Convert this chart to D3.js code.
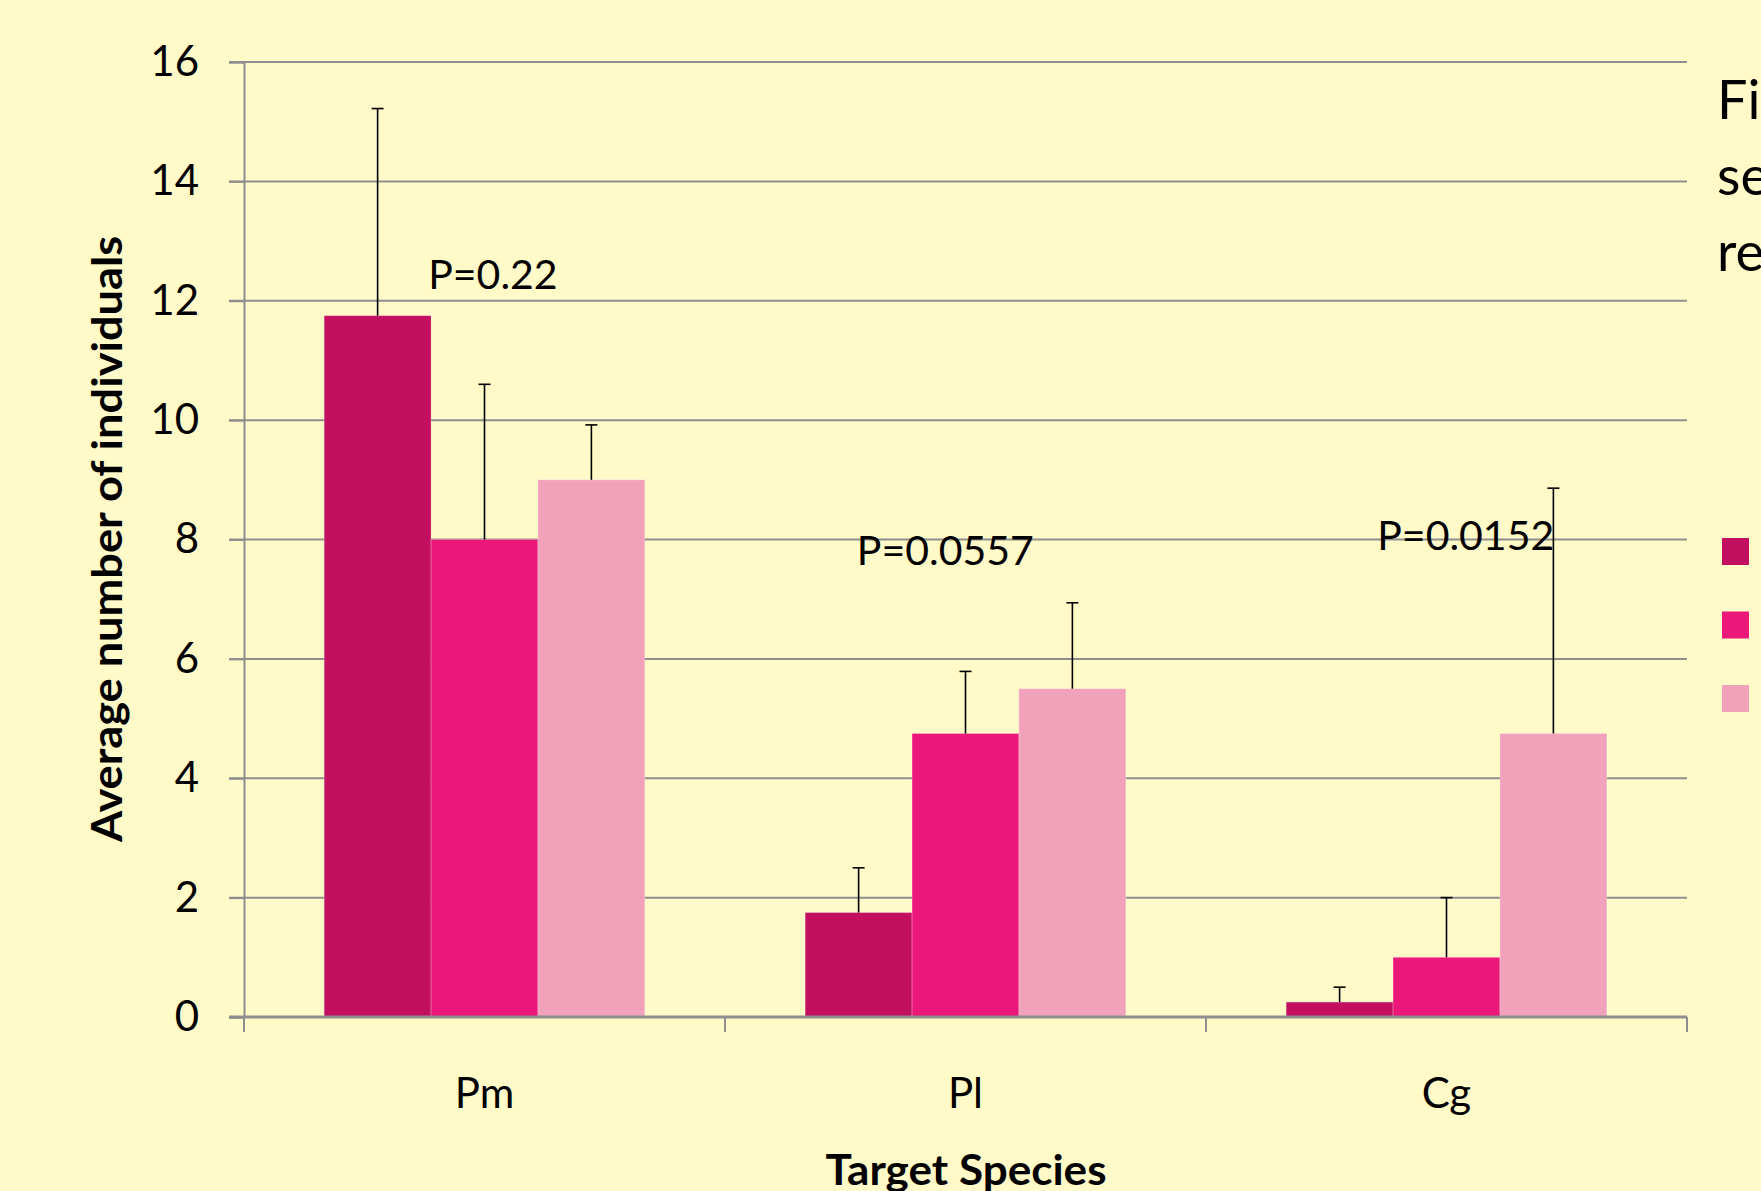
<!DOCTYPE html>
<html>
<head>
<meta charset="utf-8">
<script src="https://cdn.jsdelivr.net/npm/d3@7"></script>
<style>
  html, body { margin: 0; padding: 0; background: #fffac8; overflow: hidden; }
  svg { display: block; font-family: Lato, "Open Sans", sans-serif; }
</style>
</head>
<body>
<svg id="chart" width="1761" height="1191"></svg>
<script>
// Data
const categories = ["Pm", "Pl", "Cg"];
const seriesNames = ["Series 1", "Series 2", "Series 3"];
const seriesColors = ["#c20f5f", "#eb1779", "#f2a1bb"];
const means = [
  [11.75, 8.0, 9.0],   // Pm
  [1.75, 4.75, 5.5],   // Pl
  [0.25, 1.0, 4.75]    // Cg
];
const errors = [
  [3.47, 2.6, 0.92],
  [0.75, 1.04, 1.44],
  [0.25, 1.0, 4.11]
];
const pLabels = ["P=0.22", "P=0.0557", "P=0.0152"];
const yTicks = [0, 2, 4, 6, 8, 10, 12, 14, 16];
const sideText = ["Figure", "seagrass", "restored"];

function drawChart(container) {
  const svg = d3.select(container);
  svg.selectAll("*").remove();

  const width = 1761;
  const height = 1191;
  const margin = { top: 62, right: 74, bottom: 174, left: 244 };
  const innerWidth = width - margin.left - margin.right;
  const innerHeight = height - margin.top - margin.bottom;

  svg.append("rect")
    .attr("width", width)
    .attr("height", height)
    .attr("fill", "#fffac8");

  const g = svg.append("g")
    .attr("transform", `translate(${margin.left},${margin.top})`);

  // Scales
  const x0 = d3.scaleBand()
    .domain(categories)
    .range([0, innerWidth]);

  const x1 = d3.scaleBand()
    .domain(seriesNames)
    .range([0, x0.bandwidth()])
    .paddingInner(0)
    .paddingOuter(0.75);

  const y = d3.scaleLinear()
    .domain([0, 16])
    .range([innerHeight, 0]);

  // Gridlines
  g.append("g")
    .selectAll("line")
    .data(yTicks.filter(d => d > 0))
    .join("line")
    .attr("x1", -15)
    .attr("x2", innerWidth)
    .attr("y1", d => y(d))
    .attr("y2", d => y(d))
    .attr("stroke", "#8e8e8e")
    .attr("stroke-width", 2);

  // Y axis
  const yAxis = g.append("g")
    .call(d3.axisLeft(y).tickValues(yTicks).tickSize(15).tickPadding(30));
  yAxis.select(".domain").attr("stroke", "#8e8e8e").attr("stroke-width", 2);
  yAxis.selectAll(".tick line").attr("stroke", "#8e8e8e").attr("stroke-width", 2);
  yAxis.selectAll(".tick text")
    .attr("font-size", 42)
    .attr("font-family", "Lato, sans-serif")
    .attr("fill", "#000");

  // Bars
  const groups = g.append("g")
    .selectAll("g")
    .data(categories)
    .join("g")
    .attr("transform", c => `translate(${x0(c)},0)`);

  groups.selectAll("rect")
    .data((c, i) => seriesNames.map((s, j) => ({ s, j, v: means[i][j], e: errors[i][j] })))
    .join("rect")
    .attr("x", d => x1(d.s))
    .attr("y", d => y(d.v))
    .attr("width", x1.bandwidth())
    .attr("height", d => innerHeight - y(d.v))
    .attr("fill", d => seriesColors[d.j])
    .attr("stroke", "rgba(255,255,255,0.25)")
    .attr("stroke-width", 1);

  // Error bars (plus only)
  const err = groups.selectAll("g.err")
    .data((c, i) => seriesNames.map((s, j) => ({ s, j, v: means[i][j], e: errors[i][j] })))
    .join("g")
    .attr("class", "err")
    .attr("transform", d => `translate(${x1(d.s) + x1.bandwidth() / 2},0)`);

  err.append("line")
    .attr("y1", d => y(d.v))
    .attr("y2", d => y(d.v + d.e))
    .attr("stroke", "#000")
    .attr("stroke-width", 1.6);

  err.append("line")
    .attr("x1", -6)
    .attr("x2", 6)
    .attr("y1", d => y(d.v + d.e))
    .attr("y2", d => y(d.v + d.e))
    .attr("stroke", "#000")
    .attr("stroke-width", 1.6);

  // X axis
  const xAxis = g.append("g")
    .attr("transform", `translate(0,${innerHeight})`);
  xAxis.append("line")
    .attr("x1", -15)
    .attr("x2", innerWidth)
    .attr("stroke", "#8e8e8e")
    .attr("stroke-width", 3);
  xAxis.selectAll("line.tick")
    .data(categories.map(c => x0(c)).concat([innerWidth]))
    .join("line")
    .attr("class", "tick")
    .attr("x1", d => d)
    .attr("x2", d => d)
    .attr("y1", 0)
    .attr("y2", 15)
    .attr("stroke", "#8e8e8e")
    .attr("stroke-width", 2);
  xAxis.selectAll("text")
    .data(categories)
    .join("text")
    .attr("x", c => x0(c) + x0.bandwidth() / 2)
    .attr("y", 91)
    .attr("text-anchor", "middle")
    .attr("font-size", 42)
    .text(c => c);

  // P-value annotations (anchored to category band and y value)
  const pAnchor = [
    { fx: 0.383, v: 12.2 },
    { fx: 0.274, v: 7.58 },
    { fx: 0.356, v: 7.83 }
  ];
  g.append("g")
    .selectAll("text")
    .data(pLabels)
    .join("text")
    .attr("x", (d, i) => x0(categories[i]) + pAnchor[i].fx * x0.bandwidth())
    .attr("y", (d, i) => y(pAnchor[i].v))
    .attr("font-size", 41)
    .text(d => d);

  // Axis titles
  g.append("text")
    .attr("transform", "rotate(-90)")
    .attr("x", -(539 - margin.top))
    .attr("y", 122 - margin.left)
    .attr("text-anchor", "middle")
    .attr("font-size", 42)
    .attr("font-weight", "bold")
    .attr("textLength", 606)
    .attr("lengthAdjust", "spacingAndGlyphs")
    .text("Average number of individuals");

  g.append("text")
    .attr("x", 966 - margin.left)
    .attr("y", 1185 - margin.top)
    .attr("text-anchor", "middle")
    .attr("font-size", 42)
    .attr("font-weight", "bold")
    .attr("textLength", 281)
    .attr("lengthAdjust", "spacingAndGlyphs")
    .text("Target Species");

  // Caption on the right (clipped by the page edge)
  svg.append("g")
    .selectAll("text")
    .data(sideText)
    .join("text")
    .attr("x", 1717)
    .attr("y", (d, i) => 119 + i * 76)
    .attr("font-size", 54)
    .text(d => d);

  // Legend (labels run off the page)
  const legend = svg.append("g")
    .selectAll("g")
    .data(seriesNames)
    .join("g")
    .attr("transform", (d, i) => `translate(1722,${538 + i * 73.5})`);
  legend.append("rect")
    .attr("width", 27)
    .attr("height", 27)
    .attr("fill", (d, i) => seriesColors[i]);
  legend.append("text")
    .attr("x", 45)
    .attr("y", 27)
    .attr("font-size", 42)
    .text(d => d);
}

drawChart(document.querySelector("#chart"));
</script>
</body>
</html>
